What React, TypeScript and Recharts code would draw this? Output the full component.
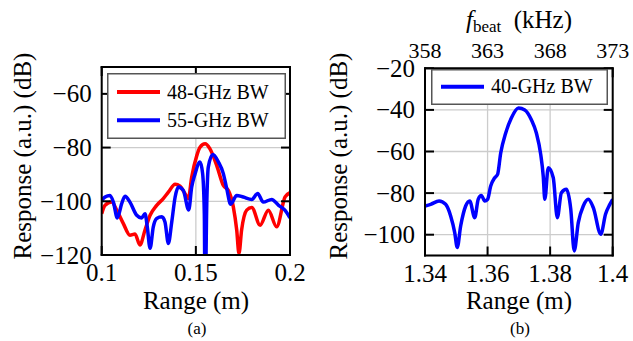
import { LineChart, Line, XAxis, YAxis, CartesianGrid, Legend } from "recharts";

const serif = '"Liberation Serif", "Times New Roman", serif';

// ---- panel (a) ----
const rangeATicks = [0.1, 0.15, 0.2];
const rangeALabels = ["0.1", "0.15", "0.2"];
const respATicks = [-120, -100, -80, -60];

const bw48X = [
  0.1, 0.1018, 0.1053, 0.108, 0.1115, 0.115, 0.1177, 0.1203, 0.123, 0.1257, 0.1292, 0.1327, 0.1354, 0.139,
  0.1416, 0.1442, 0.146, 0.1478, 0.1505, 0.1522, 0.1549, 0.1575, 0.1611, 0.1646, 0.1673, 0.1699, 0.1717,
  0.1729, 0.1743, 0.177, 0.1797, 0.1841, 0.1885, 0.1929, 0.1974, 0.2,
];
const bw48Y = [
  -104.6, -101.5, -100.3, -103.3, -108.3, -112.6, -112.2, -116.3, -110.7, -105.2, -101.5, -99, -96.6, -93.7,
  -94.4, -97.1, -99, -91, -83, -79.9, -78.6, -80.5, -86.7, -94.1, -96, -102.1, -110.7,
  -119.4, -110.7, -103.3, -102.3, -108.9, -103.3, -109.5, -98.4, -96.8,
];

const bw55X = [
  0.1, 0.1018, 0.1044, 0.1062, 0.1083, 0.1106, 0.1124, 0.115, 0.1186, 0.1212, 0.123, 0.1242, 0.1257, 0.1274,
  0.1292, 0.1319, 0.1336, 0.1354, 0.1372, 0.139, 0.1407, 0.1433, 0.1462, 0.1478, 0.1495, 0.1522, 0.1536,
  0.1545, 0.1549, 0.1558, 0.1566, 0.159, 0.162, 0.1646, 0.1664, 0.1685, 0.1717, 0.1752, 0.1797, 0.1828,
  0.1858, 0.1903, 0.1938, 0.1973, 0.2,
];
const bw55Y = [
  -99.6, -98.4, -97.8, -100.3, -106.2, -100.9, -98.1, -100.3, -105.2, -106.2, -104.6, -109.5, -117.5, -109.5,
  -106.4, -105.8, -107.7, -115.7, -107.7, -98.4, -94.7, -95.9, -103.2, -94.7, -90, -85.4, -89.7,
  -104.6, -140, -100.9, -87.3, -82.6, -85.4, -89.7, -95.3, -101.1, -97.8, -98.4, -99.3, -97.1,
  -100.3, -99.3, -101.4, -103.3, -106.2,
];

// ---- panel (b) ----
const rangeBTicks = [1.34, 1.36, 1.38, 1.4];
const rangeBLabels = ["1.34", "1.36", "1.38", "1.4"];
const fbeatLabels = ["358", "363", "368", "373"];
const respBTicks = [-100, -80, -60, -40, -20];

const bw40X = [
  1.34, 1.3418, 1.3445, 1.3466, 1.3482, 1.3495, 1.3503, 1.3514, 1.353, 1.3543, 1.3559, 1.357, 1.358, 1.3591,
  1.36, 1.361, 1.3623, 1.3632, 1.3642, 1.3658, 1.3676, 1.3699, 1.3719, 1.374, 1.3756, 1.377, 1.3778, 1.3783,
  1.3794, 1.381, 1.3823, 1.3836, 1.3852, 1.3866, 1.3877, 1.389, 1.3906, 1.3922, 1.3938, 1.3962, 1.3977,
  1.3991, 1.4,
];
const bw40Y = [
  -86.2, -85.4, -83.8, -85.4, -91, -99, -106.1, -95.8, -86.2, -83.8, -91.8, -83, -81.1, -83.8,
  -83, -76.6, -72.6, -71, -60.7, -51.1, -43.9, -39.1, -40, -44.7, -51.1, -61.5, -71.9, -83,
  -67.8, -72.6, -91.8, -79.8, -78.2, -87.8, -107.8, -94.2, -86.2, -83, -87, -99.8, -90.2,
  -85.4, -83,
];

const toRows = (xs: number[], ys: number[]) => xs.map((x, i) => ({ x, y: ys[i] }));

const fmtDb = (v: number) => (v < 0 ? "\u2212" + Math.abs(v) : String(v));

const frame = { stroke: "#000", strokeWidth: 2, strokeLinecap: "square" as const };

const leftTick = (p: any) => (
  <g>
    <line x1={p.x} y1={p.y} x2={p.x + 9} y2={p.y} stroke="#000" strokeWidth={2} />
    <text x={p.x - 10} y={p.y + 8.5} textAnchor="end" fontSize={25} fontFamily={serif} fill="#000">
      {fmtDb(p.payload.value)}
    </text>
  </g>
);

const rightTick = (p: any) => (
  <line x1={p.x} y1={p.y} x2={p.x - 9} y2={p.y} stroke="#000" strokeWidth={2} />
);

const bottomTick = (labels: string[]) => (p: any) => (
  <g>
    <line x1={p.x} y1={p.y} x2={p.x} y2={p.y - 9} stroke="#000" strokeWidth={2} />
    <text x={p.x} y={p.y + 26} textAnchor="middle" fontSize={25} fontFamily={serif} fill="#000">
      {labels[p.index]}
    </text>
  </g>
);

const topTick = (labels: string[] | null) => (p: any) => (
  <g>
    <line x1={p.x} y1={p.y} x2={p.x} y2={p.y + 9} stroke="#000" strokeWidth={2} />
    {labels && (
      <text x={p.x} y={p.y - 10} textAnchor="middle" fontSize={22} fontFamily={serif} fill="#000">
        {labels[p.index]}
      </text>
    )}
  </g>
);

function LegendBox({ payload, w, h, rowY }: any) {
  return (
    <svg width={w} height={h} style={{ display: "block" }}>
      <rect x={0.75} y={0.75} width={w - 1.5} height={h - 1.5} fill="#fff" stroke="#555" strokeWidth={1.5} />
      {(payload || []).map((e: any, i: number) => (
        <g key={i}>
          <line x1={10} x2={53} y1={rowY[i]} y2={rowY[i]} stroke={e.color} strokeWidth={4} />
          <text x={60} y={rowY[i] + 6.5} fontSize={20} fontFamily={serif} fill="#000">
            {e.value}
          </text>
        </g>
      ))}
    </svg>
  );
}

const lineProps = {
  type: "monotone" as const,
  dataKey: "y",
  dot: false,
  activeDot: false,
  strokeWidth: 3.5,
  isAnimationActive: false,
  strokeLinejoin: "round" as const,
};

export default function App() {
  return (
    <div style={{ position: "absolute", left: 0, top: 0, width: 633, height: 341, background: "#fff" }}>
      <div style={{ position: "absolute", left: 0, top: 0 }}>
        <LineChart width={316} height={341} margin={{ top: 66, right: 25, bottom: 56, left: 41.7 }}>
          <CartesianGrid stroke="#cccccc" strokeWidth={1.3} />
          <XAxis
            dataKey="x"
            type="number"
            domain={[0.1, 0.2]}
            ticks={rangeATicks}
            interval={0}
            allowDataOverflow
            height={30}
            tickSize={0}
            tickMargin={0}
            axisLine={frame}
            tick={bottomTick(rangeALabels)}
          />
          <XAxis
            xAxisId="top"
            orientation="top"
            dataKey="x"
            type="number"
            domain={[0.1, 0.2]}
            ticks={rangeATicks}
            interval={0}
            allowDataOverflow
            height={1}
            tickSize={0}
            tickMargin={0}
            axisLine={frame}
            tick={topTick(null)}
          />
          <YAxis
            type="number"
            domain={[-120, -50]}
            ticks={respATicks}
            interval={0}
            allowDataOverflow
            width={60}
            tickSize={0}
            tickMargin={0}
            axisLine={frame}
            tick={leftTick}
          />
          <YAxis
            yAxisId="right"
            orientation="right"
            type="number"
            domain={[-120, -50]}
            ticks={respATicks}
            interval={0}
            allowDataOverflow
            width={1}
            tickSize={0}
            tickMargin={0}
            axisLine={frame}
            tick={rightTick}
          />
          <Line {...lineProps} data={toRows(bw48X, bw48Y)} name="48-GHz BW" stroke="#ff0000" />
          <Line {...lineProps} data={toRows(bw55X, bw55Y)} name="55-GHz BW" stroke="#0000ff" />
          <Legend
            layout="vertical"
            align="center"
            verticalAlign="middle"
            wrapperStyle={{ left: 107.3, top: 72.7, width: 179, height: 66 }}
            content={(props: any) => <LegendBox payload={props.payload} w={179} h={66} rowY={[19, 47.3]} />}
          />
        </LineChart>
      </div>

      <div style={{ position: "absolute", left: 316, top: 0 }}>
        <LineChart width={317} height={341} margin={{ top: 67.3, right: 19.3, bottom: 55.5, left: 49 }}>
          <CartesianGrid stroke="#cccccc" strokeWidth={1.3} />
          <XAxis
            dataKey="x"
            type="number"
            domain={[1.34, 1.4]}
            ticks={rangeBTicks}
            interval={0}
            allowDataOverflow
            height={30}
            tickSize={0}
            tickMargin={0}
            axisLine={frame}
            tick={bottomTick(rangeBLabels)}
          />
          <XAxis
            xAxisId="top"
            orientation="top"
            dataKey="x"
            type="number"
            domain={[1.34, 1.4]}
            ticks={rangeBTicks}
            interval={0}
            allowDataOverflow
            height={1}
            tickSize={0}
            tickMargin={0}
            axisLine={frame}
            tick={topTick(fbeatLabels)}
          />
          <YAxis
            type="number"
            domain={[-110, -20]}
            ticks={respBTicks}
            interval={0}
            allowDataOverflow
            width={60}
            tickSize={0}
            tickMargin={0}
            axisLine={frame}
            tick={leftTick}
          />
          <YAxis
            yAxisId="right"
            orientation="right"
            type="number"
            domain={[-110, -20]}
            ticks={respBTicks}
            interval={0}
            allowDataOverflow
            width={1}
            tickSize={0}
            tickMargin={0}
            axisLine={frame}
            tick={rightTick}
          />
          <Line {...lineProps} data={toRows(bw40X, bw40Y)} name="40-GHz BW" stroke="#0000ff" />
          <Legend
            layout="vertical"
            align="center"
            verticalAlign="middle"
            wrapperStyle={{ left: 115, top: 69, width: 177, height: 36 }}
            content={(props: any) => <LegendBox payload={props.payload} w={177} h={36} rowY={[17.7]} />}
          />
        </LineChart>
      </div>

      <svg
        width={633}
        height={341}
        style={{ position: "absolute", left: 0, top: 0, pointerEvents: "none" }}
        fontFamily={serif}
        fill="#000"
      >
        <text transform="translate(22,156) rotate(-90)" textAnchor="middle" dominantBaseline="central" fontSize={25}>
          Response (a.u.) (dB)
        </text>
        <text transform="translate(338,156) rotate(-90)" textAnchor="middle" dominantBaseline="central" fontSize={25}>
          Response (a.u.) (dB)
        </text>
        <text x={196} y={308.5} textAnchor="middle" fontSize={25}>
          Range (m)
        </text>
        <text x={519} y={308.5} textAnchor="middle" fontSize={25}>
          Range (m)
        </text>
        <text x={197} y={334} textAnchor="middle" fontSize={17}>
          (a)
        </text>
        <text x={520} y={334} textAnchor="middle" fontSize={17}>
          (b)
        </text>
        <text x={519} y={28} textAnchor="middle" fontSize={25}>
          <tspan fontStyle="italic">f</tspan>
          <tspan fontSize={17} dy={4}>beat</tspan>
          <tspan dy={-4}>{"\u2002(kHz)"}</tspan>
        </text>
      </svg>
    </div>
  );
}
